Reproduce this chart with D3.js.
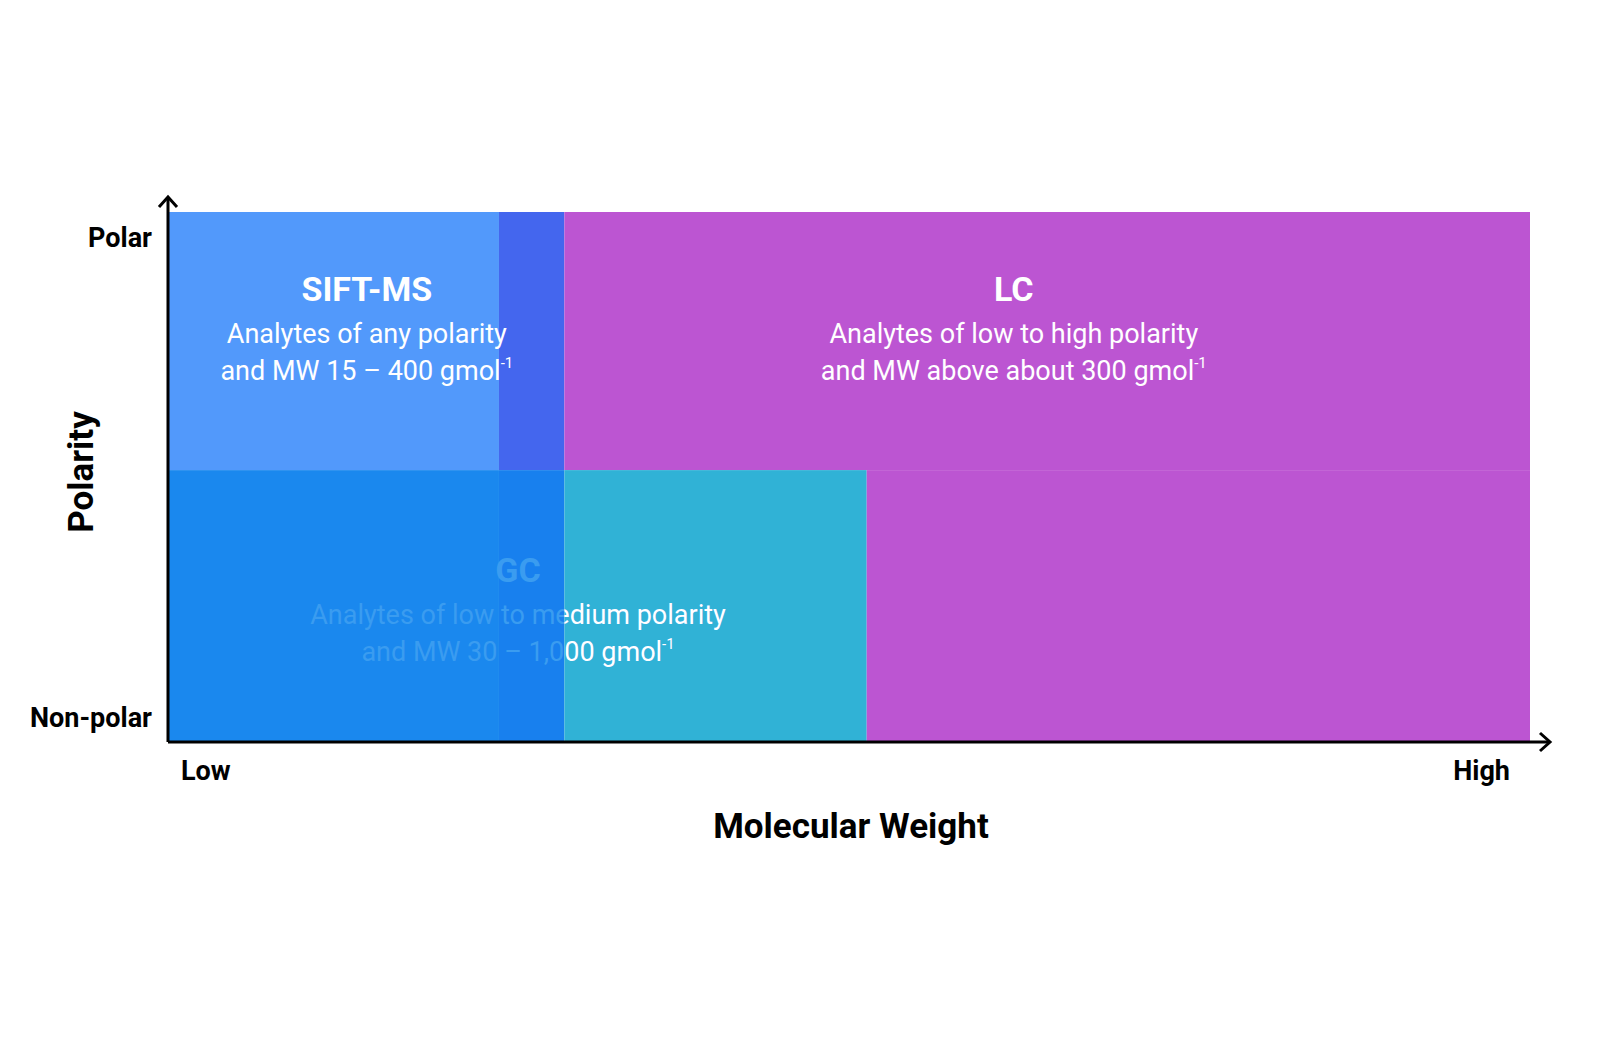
<!DOCTYPE html>
<html><head><meta charset="utf-8">
<script src="https://cdn.jsdelivr.net/npm/d3@7"></script>
<style>body{margin:0;background:#fff}svg{font-family:Roboto,sans-serif}</style>
</head><body><svg id="c" width="1600" height="1060"></svg>
<script>
// Molecular weight (0..100, Low..High) and polarity (0..100, Non-polar..Polar)
const cellX0 = [0, 24.3, 29.1, 0, 24.3, 29.1, 51.3];
const cellX1 = [24.3, 29.1, 100, 24.3, 29.1, 51.3, 100];
const cellY0 = [51.3, 51.3, 51.3, 0, 0, 0, 0];
const cellY1 = [100, 100, 100, 51.3, 51.3, 51.3, 51.3];
const cellFill = ["#5299fb", "#4466ee", "#bc55d2", "#1a88ee", "#1880ee", "#30b2d6", "#bc55d2"];
const techNames = ["SIFT-MS", "LC", "GC"];
const techLine1 = ["Analytes of any polarity", "Analytes of low to high polarity", "Analytes of low to medium polarity"];
const techLine2 = ["and MW 15 \u2013 400 gmol", "and MW above about 300 gmol", "and MW 30 \u2013 1,000 gmol"];
const techCx = [14.6, 62.1, 25.7];
const techCy = [85.5, 85.5, 32.5];
const tickLabelsY = ["Non-polar", "Polar"];
const tickLabelsX = ["Low", "High"];

const svg = d3.select("#c");
const x = d3.scaleLinear().domain([0, 100]).range([168, 1530]);
const y = d3.scaleLinear().domain([0, 100]).range([742, 212]);

svg.selectAll("rect.cell").data(cellFill).join("rect")
  .attr("x", (d,i)=>x(cellX0[i])).attr("width",(d,i)=>x(cellX1[i])-x(cellX0[i]))
  .attr("y", (d,i)=>y(cellY1[i])).attr("height",(d,i)=>y(cellY0[i])-y(cellY1[i]))
  .attr("fill", d=>d);

svg.append("clipPath").attr("id","tealclip").append("rect")
  .attr("x", x(29.1)).attr("y", 0).attr("width", 2000).attr("height", 2000);

function label(i, fill, clip){
  const g = svg.append("g").attr("fill", fill).attr("text-anchor","middle");
  if (clip) g.attr("clip-path","url(#tealclip)");
  const cx = x(techCx[i]), cy = y(techCy[i]);
  g.append("text").attr("x",cx).attr("y",cy+12).attr("font-size",34).attr("font-weight","bold").text(techNames[i]);
  g.append("text").attr("x",cx).attr("y",cy+54).attr("font-size",27).text(techLine1[i]);
  const t = g.append("text").attr("x",cx).attr("y",cy+91).attr("font-size",27);
  t.append("tspan").text(techLine2[i]);
  t.append("tspan").attr("font-size",15).attr("dy",-12).text("-1");
}
label(0, "#fff", false);
label(1, "#fff", false);
label(2, "#3a9cf0", false);
label(2, "#fff", true);

// axes
const ax = svg.append("g").attr("stroke","#000").attr("stroke-width",3).attr("fill","none");
ax.append("line").attr("x1",x(0)).attr("y1",y(0)).attr("x2",1550).attr("y2",y(0));
ax.append("line").attr("x1",x(0)).attr("y1",y(0)).attr("x2",x(0)).attr("y2",197);
ax.append("path").attr("d",`M${x(0)-9},${207} L${x(0)},${197} L${x(0)+9},${207}`);
ax.append("path").attr("d",`M1540,${y(0)-9} L1550,${y(0)} L1540,${y(0)+9}`);

const tg = svg.append("g").attr("font-weight","bold").attr("font-size",27).attr("fill","#000");
tg.selectAll("text.ty").data(tickLabelsY).join("text")
  .attr("x",152).attr("y",(d,i)=> i ? 247 : 727).attr("text-anchor","end").text(d=>d);
tg.selectAll("text.tx").data(tickLabelsX).join("text")
  .attr("x",(d,i)=> i ? 1510 : 181).attr("y",780).attr("text-anchor",(d,i)=> i ? "end":"start").text(d=>d);
svg.append("text").attr("x",851).attr("y",838).attr("text-anchor","middle").attr("font-size",35).attr("font-weight","bold").text("Molecular Weight");
svg.append("text").attr("transform","translate(93,472) rotate(-90)").attr("text-anchor","middle").attr("font-size",35).attr("font-weight","bold").text("Polarity");
</script></body></html>
